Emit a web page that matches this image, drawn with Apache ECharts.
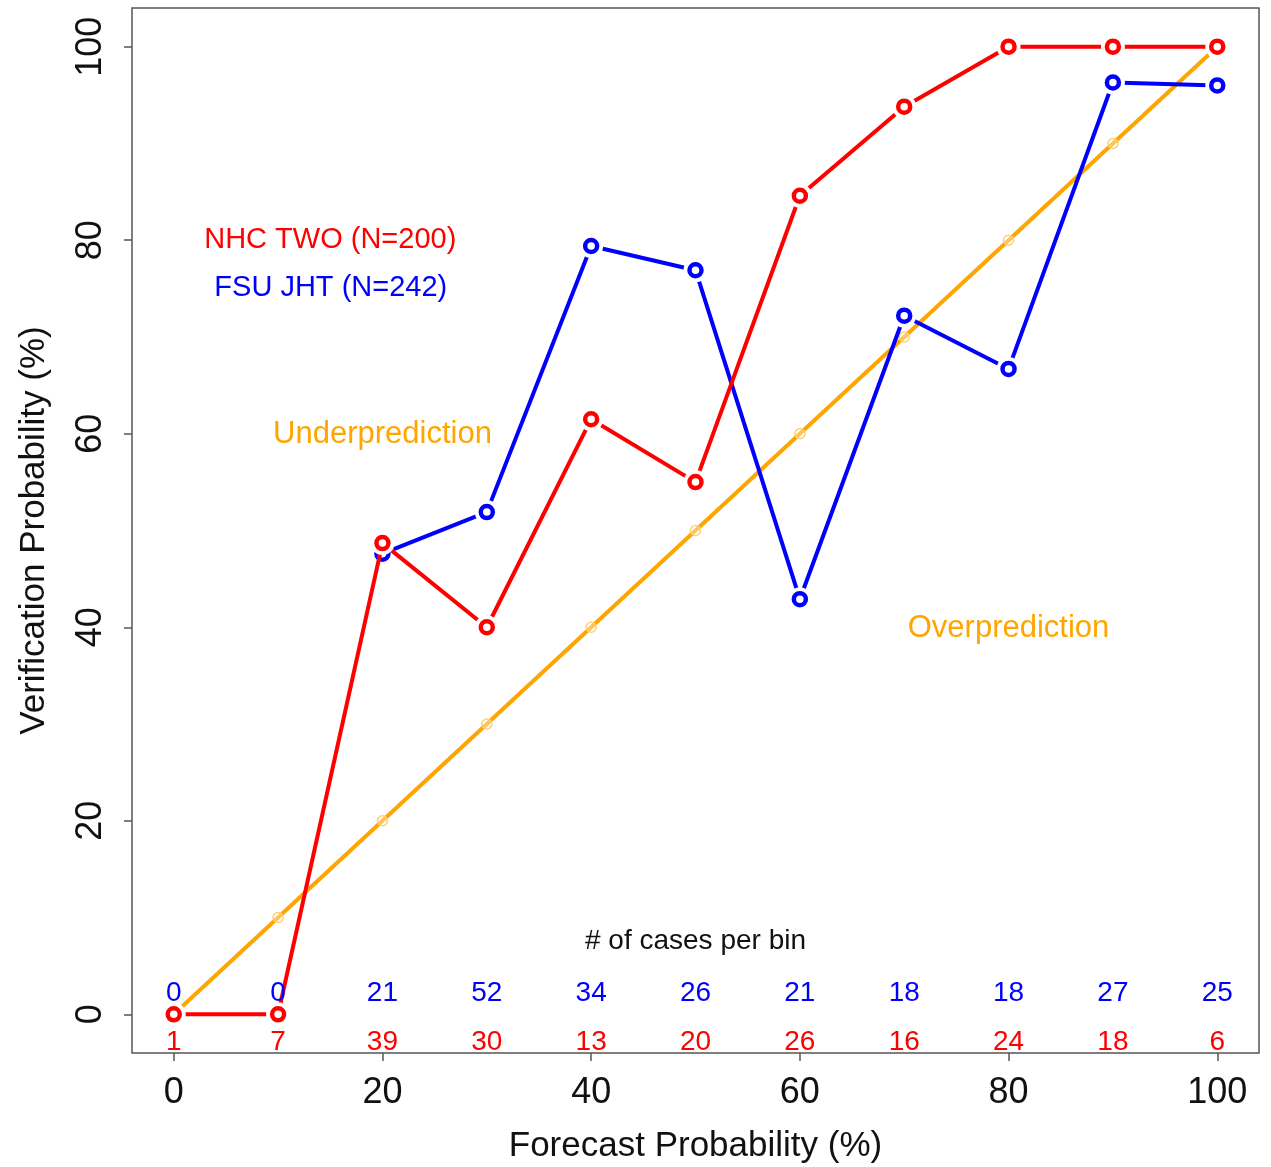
<!DOCTYPE html>
<html>
<head>
<meta charset="utf-8">
<script src="https://cdn.jsdelivr.net/npm/echarts@6/dist/echarts.min.js"></script>
<style>
html,body{margin:0;padding:0;background:#fff;}
#c{width:1271px;height:1167px;}
</style>
</head>
<body>
<div id="c"></div>
<script>
// ---- data ----
const forecastBins = [0, 10, 20, 30, 40, 50, 60, 70, 80, 90, 100];
const nhcVerif = [0, 0, 48.7, 40.0, 61.5, 55.0, 84.6, 93.8, 100, 100, 100];
const fsuVerif = [null, null, 47.6, 51.9, 79.4, 76.9, 42.9, 72.2, 66.7, 96.3, 96.0];
const perfectLine = [0, 10, 20, 30, 40, 50, 60, 70, 80, 90, 100];
const nhcCounts = [1, 7, 39, 30, 13, 20, 26, 16, 24, 18, 6];
const fsuCounts = [0, 0, 21, 52, 34, 26, 21, 18, 18, 27, 25];
const tickValues = [0, 20, 40, 60, 80, 100];
const nhcLabel = 'NHC TWO (N=200)';
const fsuLabel = 'FSU JHT (N=242)';
const underLabel = 'Underprediction';
const overLabel = 'Overprediction';
const countsHeader = '# of cases per bin';
const xTitle = 'Forecast Probability (%)';
const yTitle = 'Verification Probability (%)';

const FONT = "'Liberation Sans', Arial, Helvetica, sans-serif";
const RED = '#FF0000', BLUE = '#0000FF', ORANGE = '#FFA500';

function pairs(xs, ys) {
  const out = [];
  xs.forEach((x, i) => { if (ys[i] !== null && ys[i] !== undefined) out.push([x, ys[i]]); });
  return out;
}
function textSeries(items, color, size, z) {
  return {
    type: 'scatter', z: z || 20, silent: true,
    symbol: 'circle', symbolSize: 0,
    itemStyle: { color: 'rgba(0,0,0,0)', opacity: 1 },
    data: items.map(it => ({ value: [it[0], it[1]], label: { formatter: String(it[2]) } })),
    label: { show: true, position: 'inside', color: color, opacity: 1, textBorderWidth: 0, fontSize: size, fontFamily: FONT },
    animation: false
  };
}
function lineSeries(data, color, z) {
  return { type: 'line', data: data, z: z, symbol: 'none', lineStyle: { color: color, width: 4 }, animation: false, silent: true };
}
function haloSeries(data, z) {
  return { type: 'scatter', data: data, z: z, symbol: 'circle', symbolSize: 24, itemStyle: { color: '#fff', opacity: 1 }, animation: false, silent: true };
}
function ringSeries(data, color, z) {
  return { type: 'scatter', data: data, z: z, symbol: 'circle', symbolSize: 12, itemStyle: { color: '#fff', borderColor: color, borderWidth: 4.5, opacity: 1 }, animation: false, silent: true };
}

const nhcData = pairs(forecastBins, nhcVerif);
const fsuData = pairs(forecastBins, fsuVerif);
const diagData = pairs(forecastBins, perfectLine);

const chart = echarts.init(document.getElementById('c'), null, { renderer: 'canvas' });
const axisCommon = {
  type: 'value', min: -4, max: 104,
  axisLine: { show: false, onZero: false },
  splitLine: { show: false },
  axisTick: { show: true, inside: false, length: 8, lineStyle: { color: '#555', width: 1.5 }, customValues: tickValues },
  nameLocation: 'middle',
  nameTextStyle: { fontSize: 35, fontFamily: FONT, color: '#111' }
};
chart.setOption({
  animation: false,
  backgroundColor: '#fff',
  grid: { left: 132, right: 12, top: 8, bottom: 114, containLabel: false, outerBoundsMode: 'none', show: true, borderColor: '#555', borderWidth: 1.5, backgroundColor: 'rgba(0,0,0,0)' },
  xAxis: Object.assign({}, axisCommon, {
    name: xTitle, nameGap: 76,
    axisLabel: { customValues: tickValues, margin: 22, fontSize: 36, fontFamily: FONT, color: '#111' }
  }),
  yAxis: Object.assign({}, axisCommon, {
    name: yTitle, nameGap: 80,
    axisLabel: { customValues: tickValues, margin: 23, rotate: 90, fontSize: 36, fontFamily: FONT, color: '#111' }
  }),
  series: [
    lineSeries(diagData, ORANGE, 2),
    { type: 'scatter', data: diagData, z: 3, symbol: 'circle', symbolSize: 10, itemStyle: { color: 'rgba(255,255,255,0.35)', borderColor: '#FFCF70', borderWidth: 1.5, opacity: 1 }, animation: false, silent: true },
    lineSeries(fsuData, BLUE, 4),
    haloSeries(fsuData, 5),
    ringSeries(fsuData, BLUE, 6),
    lineSeries(nhcData, RED, 7),
    haloSeries(nhcData, 8),
    ringSeries(nhcData, RED, 9),
    textSeries(forecastBins.map((x, i) => [x, 2.2, fsuCounts[i]]), BLUE, 28, 20),
    textSeries(forecastBins.map((x, i) => [x, -2.9, nhcCounts[i]]), RED, 28, 20),
    textSeries([[50, 7.5, countsHeader]], '#111', 28, 20),
    textSeries([[15, 80.05, nhcLabel]], RED, 29, 20),
    textSeries([[15.05, 75.1, fsuLabel]], BLUE, 29, 20),
    textSeries([[20, 59.9, underLabel]], ORANGE, 31, 20),
    textSeries([[80, 39.9, overLabel]], ORANGE, 31, 20)
  ]
});
</script>
</body>
</html>
